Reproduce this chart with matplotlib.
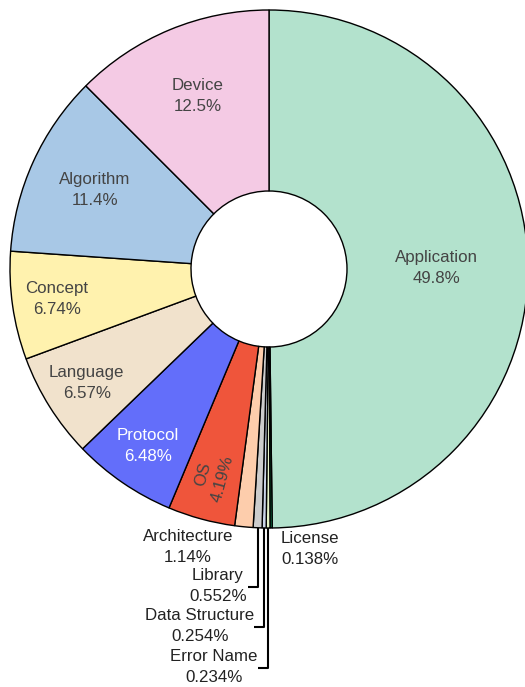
import numpy as np
import matplotlib
matplotlib.use('Agg')
from matplotlib import pyplot as plt

plt.rcParams['font.family'] = ['Liberation Sans', 'DejaVu Sans']

# slices, clockwise from 12 o'clock
labels = ['Application', 'License', 'Error Name', 'Data Structure', 'Library', 'Architecture',
          'OS', 'Protocol', 'Language', 'Concept', 'Algorithm', 'Device']
values = [49.8, 0.138, 0.234, 0.254, 0.552, 1.14, 4.19, 6.48, 6.57, 6.74, 11.4, 12.5]
pct_text = ['49.8%', '0.138%', '0.234%', '0.254%', '0.552%', '1.14%', '4.19%', '6.48%',
            '6.57%', '6.74%', '11.4%', '12.5%']
colors = ['#b3e2cd', '#12965a', '#e6f5c9', '#cbd5e8', '#cccccc', '#fdcdac',
          '#ef553b', '#636efa', '#f1e2cc', '#fff2ae', '#a8c8e6', '#f4cae4']

# layout (pixels, y measured downward and negated)
cx, cy = 269, -269
R = 259
hole = 78
fs = 12.2
ls = 1.5

fig = plt.figure(figsize=(5.25, 6.87), dpi=100)
ax = fig.add_axes([0, 0, 1, 1])
ax.pie(values, colors=colors, startangle=90, counterclock=False, radius=R, center=(cx, cy),
       wedgeprops=dict(width=R - hole, edgecolor='black', linewidth=1.0))
ax.set_xlim(0, 525)
ax.set_ylim(-687, 0)
ax.set_aspect('equal')
ax.axis('off')

vals = np.array(values)
cum = np.cumsum(vals) / vals.sum()
mid = (cum - vals / vals.sum() / 2) * 360  # degrees clockwise from top

def pos(i, r):
    t = np.radians(mid[i])
    return cx + r * np.sin(t), cy + r * np.cos(t)

# inside labels: radius fraction
inside = {'Application': 0.645, 'Device': 0.722, 'Algorithm': 0.74, 'Concept': 0.827,
          'Language': 0.831, 'Protocol': 0.83, 'OS': 0.83}
for i, lab in enumerate(labels):
    if lab not in inside:
        continue
    x, y = pos(i, inside[lab] * R)
    col = 'white' if lab == 'Protocol' else '#444444'
    rot = 0
    if lab == 'OS':
        rot = 90 - (mid[i] - 180)
    ax.text(x, y, lab + '\n' + pct_text[i], ha='center', va='center', fontsize=fs,
            color=col, rotation=rot, rotation_mode='anchor', linespacing=ls)

# outside labels without leader lines
ax.text(188, -547, 'Architecture\n' + pct_text[labels.index('Architecture')], ha='center',
        va='center', fontsize=fs, color='#222222', linespacing=ls)
ax.text(310, -549, 'License\n' + pct_text[labels.index('License')], ha='center',
        va='center', fontsize=fs, color='#222222', linespacing=ls)

# outside labels with elbow leader lines: (label, elbow y, line end x, text center x)
leaders = [('Library', 587, 248, 218), ('Data Structure', 627, 254, 200),
           ('Error Name', 668, 258, 214)]
for lab, ye, xe, xt in leaders:
    i = labels.index(lab)
    x0, y0 = pos(i, R)
    ax.plot([x0, x0, xe], [y0, -ye, -ye], color='black', lw=1.5, solid_capstyle='butt')
    ax.text(xt, -ye + 1, lab + '\n' + pct_text[i], ha='center', va='center', fontsize=fs,
            color='#222222', linespacing=ls)

fig.savefig('out.png', dpi=100)
